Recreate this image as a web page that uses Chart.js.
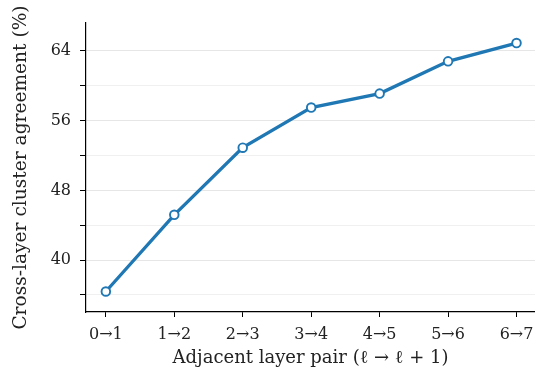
<!DOCTYPE html>
<html>
<head>
<meta charset="utf-8">
<script src="https://cdn.jsdelivr.net/npm/chart.js@4.4.1/dist/chart.umd.min.js"></script>
<style>
  html, body { margin: 0; padding: 0; background: #fff; }
  #wrap { position: relative; width: 535px; height: 371px; }
</style>
</head>
<body>
<div id="wrap"><canvas id="chart"></canvas></div>
<script>
// Layer pairs on the x axis and agreement values
const pairLabels = ['0\u21921', '1\u21922', '2\u21923', '3\u21924', '4\u21925', '5\u21926', '6\u21927'];
const agreement = [36.4, 45.2, 52.9, 57.5, 59.1, 62.8, 64.9];
const yTickStep = 4;      // grid every 4, labels every 8

const SERIF = "'DejaVu Serif', serif";
const BLUE = '#1f77b4';

new Chart(document.getElementById('chart'), {
    type: 'line',
    data: {
        datasets: [{
            data: agreement.map((v, i) => ({ x: i, y: v })),
            borderColor: BLUE,
            borderWidth: 3.3,
            pointRadius: 4.3,
            pointBorderWidth: 1.9,
            pointBackgroundColor: '#fff',
            pointBorderColor: BLUE,
            tension: 0
        }]
    },
    options: {
        responsive: true,
        maintainAspectRatio: false,
        animation: false,
        layout: {
            autoPadding: false,
            padding: { top: 23, right: 0, left: 0, bottom: 0 }
        },
        plugins: { legend: { display: false }, tooltip: { enabled: false } },
        scales: {
            x: {
                type: 'linear',
                min: -0.29,
                max: 6.27,
                afterFit: scale => {
                    scale.height = 59;
                    scale.paddingLeft = 0;
                    scale.paddingRight = 0;
                },
                border: { color: '#000', width: 1.2 },
                grid: { drawOnChartArea: false, tickColor: '#000', tickLength: 5 },
                ticks: {
                    stepSize: 1,
                    includeBounds: false,
                    maxRotation: 0,
                    color: '#222',
                    // zero padding keeps the last label from shrinking the plot;
                    // the tall line height pushes labels down instead
                    padding: 0,
                    font: { family: SERIF, size: 16, lineHeight: 2.25 },
                    callback: v => pairLabels[v] ?? ''
                },
                title: {
                    display: true,
                    text: 'Adjacent layer pair (\u2113 \u2192 \u2113 + 1)',
                    color: '#222',
                    font: { family: SERIF, size: 18, lineHeight: 1.0 },
                    padding: { top: 0 }
                }
            },
            y: {
                min: 34.05,
                max: 67.2,
                afterFit: scale => {
                    scale.width = 86;
                    scale.paddingTop = 0;
                    scale.paddingBottom = 0;
                },
                border: { color: '#000', width: 1.2 },
                grid: {
                    color: ctx => (ctx.tick && ctx.tick.value % 8 === 0) ? '#e6e6e6' : '#f0f0f0',
                    lineWidth: 1,
                    tickColor: '#000',
                    tickLength: 6
                },
                ticks: {
                    stepSize: yTickStep,
                    includeBounds: false,
                    color: '#222',
                    padding: 9,
                    font: { family: SERIF, size: 16 },
                    callback: v => (v % 8 === 0 ? String(v) : '')
                },
                title: {
                    display: true,
                    text: 'Cross-layer cluster agreement (%)',
                    color: '#222',
                    font: { family: SERIF, size: 18.6 },
                    padding: { top: 10, bottom: 0 }
                }
            }
        }
    }
});
</script>
</body>
</html>
